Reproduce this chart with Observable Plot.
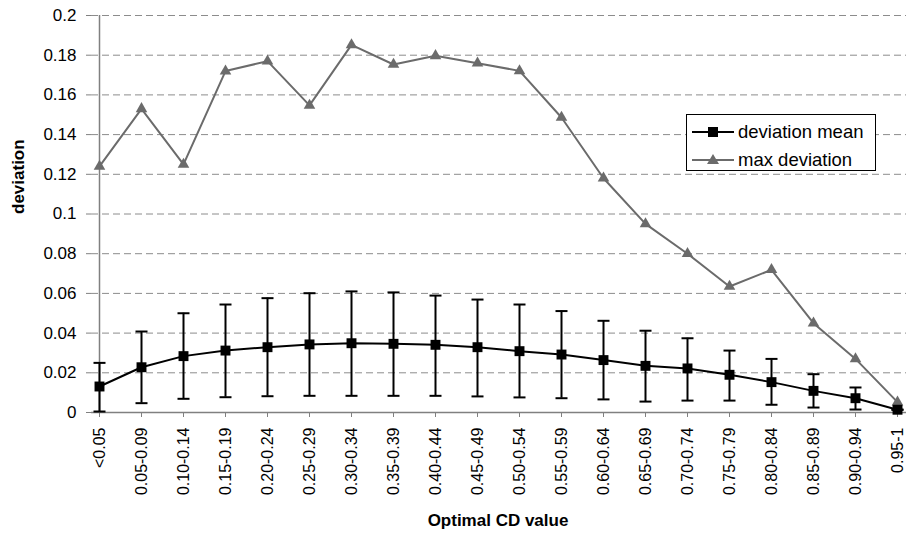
<!DOCTYPE html>
<html><head><meta charset="utf-8">
<script src="https://cdn.jsdelivr.net/npm/d3@7"></script>
<script src="https://cdn.jsdelivr.net/npm/@observablehq/plot@0.6"></script>
<style>
body{margin:0;overflow:hidden;background:#fff;font-family:"Liberation Sans",Arial,sans-serif}
#wrap{position:relative;width:906px;height:537px;overflow:hidden}
#chart svg{max-width:none}
#legend{position:absolute;left:686px;top:114px;width:188px;height:55px;border:1px solid #000;background:#fff}
#legend .row{position:absolute;left:0;height:24px;width:188px}
#legend svg{position:absolute;left:5px;top:0}
#legend span{position:absolute;left:51px;top:1px;font-size:18.5px;line-height:22px;color:#000;white-space:nowrap}
</style></head><body>
<div id="wrap"><div id="chart"></div>
<div id="legend">
  <div class="row" style="top:5px"><svg width="42" height="24"><line x1="0" y1="12" x2="42" y2="12" stroke="#000" stroke-width="2"/><rect x="16" y="7" width="10" height="10" fill="#000"/></svg><span>deviation mean</span></div>
  <div class="row" style="top:33px"><svg width="42" height="24"><line x1="0" y1="12" x2="42" y2="12" stroke="#6b6b6b" stroke-width="2"/><path d="M21,6 L27,16 L15,16 Z" fill="#6b6b6b"/></svg><span>max deviation</span></div>
</div>
</div>
<script>
const categories = ["<0.05","0.05-0.09","0.10-0.14","0.15-0.19","0.20-0.24","0.25-0.29","0.30-0.34","0.35-0.39","0.40-0.44","0.45-0.49","0.50-0.54","0.55-0.59","0.60-0.64","0.65-0.69","0.70-0.74","0.75-0.79","0.80-0.84","0.85-0.89","0.90-0.94","0.95-1"];
const meanValues  = [0.0131,0.0228,0.0284,0.0312,0.0329,0.0343,0.0349,0.0346,0.0341,0.0329,0.0309,0.0292,0.0264,0.0235,0.0222,0.0190,0.0153,0.0109,0.0072,0.0014];
const lowerValues = [0.0005,0.0047,0.0069,0.0077,0.0082,0.0084,0.0084,0.0084,0.0084,0.0081,0.0076,0.0072,0.0066,0.0055,0.0060,0.0060,0.0039,0.0025,0.0015,0.0014];
const upperValues = [0.0250,0.0408,0.0500,0.0544,0.0576,0.0601,0.0610,0.0605,0.0589,0.0569,0.0544,0.0511,0.0462,0.0412,0.0374,0.0312,0.0270,0.0193,0.0126,0.0014];
const maxValues   = [0.124,0.153,0.125,0.172,0.177,0.1547,0.1852,0.1753,0.1797,0.176,0.1721,0.1486,0.118,0.095,0.080,0.0635,0.0719,0.045,0.027,0.0052];
const yTicks = [0,0.02,0.04,0.06,0.08,0.1,0.12,0.14,0.16,0.18,0.2];

const rows = categories.map((c,i)=>({cat:c, mean:meanValues[i], lo:lowerValues[i], hi:upperValues[i], max:maxValues[i]}));
const capSymbol = {draw(ctx,size){const w=Math.sqrt(size/Math.PI); ctx.moveTo(-w,0); ctx.lineTo(w,0);}};

const chart = Plot.plot({
  width: 906, height: 537,
  marginLeft: 91, marginRight: 2, marginTop: 15, marginBottom: 125,
  style: {fontFamily: '"Liberation Sans", Arial, sans-serif', background: "#fff", color: "#000", maxWidth: "none"},
  x: {type: "point", domain: categories, padding: 0},
  y: {domain: [0, 0.2]},
  marks: [
    Plot.ruleY(yTicks.slice(1), {stroke: "#8c8c8c", strokeDasharray: "7,4", strokeWidth: 1, insetRight: -2}),
    Plot.ruleY([0], {stroke: "#808080", strokeWidth: 1.5, insetRight: -2}),
    Plot.ruleX([categories[0]], {y1: 0, y2: 0.2, stroke: "#808080", strokeWidth: 1.5}),
    Plot.axisY({ticks: yTicks, tickSize: 5, tickPadding: 10, fontSize: 17, stroke: "#808080", label: null,
      tickFormat: d => d === 0 ? "0" : String(+d.toFixed(2))}),
    Plot.axisX({tickRotate: -90, tickSize: 5, tickPadding: 10, fontSize: 16, stroke: "#808080", label: null}),
    Plot.line(rows, {x: "cat", y: "max", stroke: "#6b6b6b", strokeWidth: 2}),
    Plot.dot(rows, {x: "cat", y: "max", symbol: "triangle", r: 4.3, fill: "#6b6b6b"}),
    Plot.ruleX(rows, {x: "cat", y1: "lo", y2: "hi", stroke: "#000", strokeWidth: 2}),
    Plot.dot(rows, {x: "cat", y: "lo", symbol: capSymbol, r: 6, fill: "none", stroke: "#000", strokeWidth: 2}),
    Plot.dot(rows, {x: "cat", y: "hi", symbol: capSymbol, r: 6, fill: "none", stroke: "#000", strokeWidth: 2}),
    Plot.line(rows, {x: "cat", y: "mean", stroke: "#000", strokeWidth: 2}),
    Plot.dot(rows, {x: "cat", y: "mean", symbol: "square", r: 5.6, fill: "#000"}),
    Plot.text(["deviation"], {frameAnchor: "left", dx: -73, rotate: -90, fontWeight: "bold", fontSize: 17}),
    Plot.text(["Optimal CD value"], {frameAnchor: "bottom", dy: 113, fontWeight: "bold", fontSize: 17})
  ]
});
document.getElementById("chart").appendChild(chart);
</script>
</body></html>
